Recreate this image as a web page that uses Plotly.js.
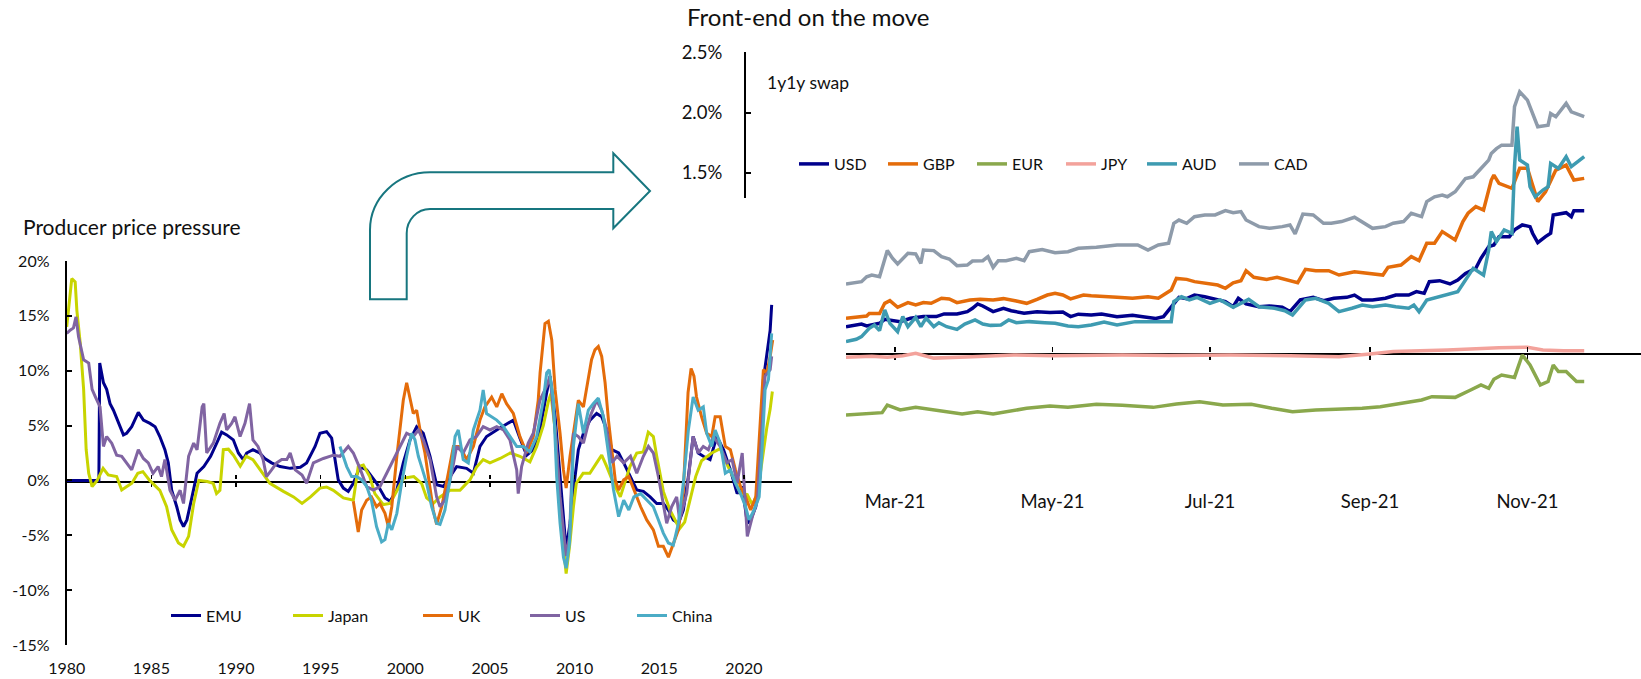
<!DOCTYPE html>
<html><head><meta charset="utf-8">
<script src="https://cdn.plot.ly/plotly-3.0.1.min.js"></script>
<style>html,body{margin:0;padding:0;background:#fff}#chart{width:1641px;height:679px}</style>
</head><body><div id="chart"></div>
<script>
// ---------------- DATA: Producer price pressure (% y/y) ----------------
const emu = [[1980.0,0],[1981.9,0],[1981.95,10.7],[1982.17,8.9],[1982.36,8.3],[1982.56,7.0],[1982.76,6.4],[1983.05,5.2],[1983.35,4.15],[1983.54,4.3],[1983.84,4.9],[1984.23,6.2],[1984.53,5.5],[1984.92,5.2],[1985.22,4.9],[1985.5,4.0],[1985.8,2.8],[1986.0,1.6],[1986.2,-0.9],[1986.5,-2.4],[1986.7,-3.6],[1986.9,-4.2],[1987.1,-3.6],[1987.4,-1.5],[1987.7,0.65],[1988.1,1.26],[1988.5,2.2],[1988.86,3.4],[1989.15,4.4],[1989.45,4.15],[1989.84,3.7],[1990.14,2.5],[1990.43,1.9],[1990.63,2.5],[1991.0,2.8],[1991.4,2.5],[1991.7,2.0],[1992.1,1.6],[1992.6,1.26],[1993.2,1.1],[1993.8,1.2],[1994.17,1.6],[1994.67,3.1],[1994.96,4.3],[1995.35,4.45],[1995.65,3.85],[1995.85,1.9],[1996.04,0.05],[1996.34,-0.7],[1996.63,-1.0],[1996.93,-0.26],[1997.32,1.26],[1997.72,0.96],[1998.31,-0.26],[1998.8,-1.6],[1999.1,-1.9],[1999.5,-0.87],[1999.88,1.6],[2000.28,3.7],[2000.67,4.9],[2001.06,4.3],[2001.46,2.2],[2001.85,-0.4],[2002.25,-0.56],[2002.64,0.35],[2003.03,1.26],[2003.62,1.1],[2004.02,0.65],[2004.41,3.1],[2004.8,4.0],[2005.4,4.6],[2005.98,5.1],[2006.38,5.5],[2006.77,3.85],[2007.17,2.3],[2007.56,2.8],[2007.95,4.6],[2008.35,8.0],[2008.55,9.5],[2008.85,5.8],[2009.14,0.35],[2009.34,-3.9],[2009.5,-6.3],[2009.73,-3.9],[2009.93,-0.87],[2010.22,2.8],[2010.52,4.3],[2010.91,5.5],[2011.3,6.1],[2011.6,5.8],[2011.9,4.6],[2012.2,2.8],[2012.6,2.5],[2012.9,1.6],[2013.3,0.35],[2013.67,-0.87],[2014.06,-1.0],[2014.46,-1.5],[2014.85,-2.1],[2015.24,-2.1],[2015.54,-2.7],[2015.83,-3.6],[2016.13,-3.9],[2016.42,-2.7],[2016.72,0.35],[2017.0,4.0],[2017.3,2.5],[2017.6,2.2],[2018.0,1.9],[2018.4,4.0],[2018.8,2.8],[2019.2,0.96],[2019.6,-1.2],[2019.9,-0.56],[2020.2,-3.9],[2020.4,-3.6],[2020.7,-2.4],[2020.95,0.35],[2021.15,9.2],[2021.35,11.3],[2021.55,13.7],[2021.64,16.0]];
const japan = [[1980.0,14.0],[1980.3,18.4],[1980.5,18.1],[1980.6,15.5],[1980.8,12.5],[1981.0,8.3],[1981.15,2.8],[1981.3,0.65],[1981.5,-0.56],[1981.8,0],[1982.15,1.1],[1982.45,0.5],[1982.95,0.35],[1983.25,-0.87],[1983.55,-0.56],[1983.85,-0.26],[1984.2,0.65],[1984.5,0.8],[1984.9,0],[1985.5,-0.9],[1985.9,-2.4],[1986.2,-4.5],[1986.6,-5.7],[1986.9,-6.0],[1987.2,-5.1],[1987.5,-2.1],[1987.8,0],[1988.3,-0.1],[1988.65,-0.26],[1988.85,-1.2],[1989.05,-0.9],[1989.25,2.8],[1989.55,2.85],[1989.85,2.3],[1990.25,1.3],[1990.6,2.2],[1991.0,1.9],[1991.6,0.65],[1992.0,-0.26],[1992.8,-1.0],[1993.4,-1.5],[1993.9,-2.1],[1994.4,-1.5],[1994.96,-0.7],[1995.35,-0.6],[1995.75,-0.9],[1996.34,-1.6],[1996.93,-1.8],[1997.22,1.26],[1997.52,1.4],[1997.9,0.35],[1998.2,-1.2],[1998.7,-2.2],[1999.1,-2.1],[1999.5,-0.9],[1999.9,0.2],[2000.5,0.35],[2000.96,-0.26],[2001.26,-1.6],[2001.65,-2.1],[2002.05,-1.5],[2002.64,-0.9],[2003.23,-0.9],[2003.82,0.05],[2004.2,1.2],[2004.6,1.9],[2005.0,1.6],[2005.6,2.0],[2006.2,2.5],[2006.77,2.2],[2007.36,1.7],[2007.76,3.1],[2008.15,5.0],[2008.45,7.2],[2008.6,7.9],[2008.85,4.6],[2009.04,0.05],[2009.24,-4.5],[2009.5,-8.5],[2009.7,-6.0],[2009.93,-2.4],[2010.1,-0.26],[2010.5,0.65],[2010.9,0.65],[2011.3,1.6],[2011.6,2.3],[2011.9,1.26],[2012.3,-0.26],[2012.7,-1.5],[2013.27,1.26],[2013.67,2.5],[2014.06,2.6],[2014.35,4.4],[2014.65,4.0],[2014.85,2.2],[2015.24,-1.0],[2015.63,-2.7],[2016.2,-4.4],[2016.5,-3.8],[2016.8,-1.8],[2017.15,0.35],[2017.5,1.8],[2018.1,2.5],[2018.6,2.9],[2019.05,1.3],[2019.5,-0.1],[2019.8,-1.2],[2020.2,-1.3],[2020.5,-2.2],[2020.8,-1.2],[2021.1,2.3],[2021.35,4.8],[2021.55,6.5],[2021.68,8.1]];
const uk = [[1996.93,-1.9],[1997.22,-4.7],[1997.42,-2.7],[1997.72,-1.8],[1998.0,-1.5],[1998.3,-2.4],[1998.5,-2.1],[1998.8,-3.0],[1999.0,-4.2],[1999.2,-2.4],[1999.5,2.2],[1999.7,4.9],[1999.88,7.3],[2000.08,8.9],[2000.28,7.3],[2000.47,6.1],[2000.67,6.4],[2000.87,4.6],[2001.16,2.5],[2001.46,-0.56],[2001.65,-2.7],[2001.85,-4.0],[2002.15,-2.4],[2002.54,0.65],[2002.84,3.1],[2003.23,3.1],[2003.62,1.9],[2004.02,3.1],[2004.41,5.5],[2004.7,6.7],[2005.1,7.6],[2005.4,6.7],[2005.7,7.9],[2005.98,7.0],[2006.38,6.1],[2006.77,4.0],[2007.17,2.5],[2007.56,4.0],[2007.85,7.3],[2007.96,9.8],[2008.25,14.3],[2008.45,14.5],[2008.65,12.8],[2008.85,8.25],[2009.14,4.3],[2009.34,0.96],[2009.5,-0.7],[2009.73,2.2],[2010.03,5.2],[2010.22,7.3],[2010.52,6.7],[2010.81,9.5],[2011.0,11.0],[2011.2,11.9],[2011.4,12.2],[2011.6,11.3],[2011.8,8.9],[2012.0,5.5],[2012.2,2.8],[2012.4,0.05],[2012.6,-0.87],[2012.9,0.05],[2013.2,0.35],[2013.5,-0.87],[2013.9,-2.4],[2014.26,-3.6],[2014.65,-4.5],[2014.95,-6.0],[2015.24,-6.0],[2015.54,-7.0],[2015.83,-5.7],[2016.13,-4.5],[2016.42,-1.0],[2016.55,3.0],[2016.7,8.0],[2016.88,10.2],[2017.05,9.5],[2017.2,7.6],[2017.5,5.8],[2017.8,4.3],[2018.1,4.0],[2018.3,5.8],[2018.6,5.8],[2018.9,3.1],[2019.2,2.8],[2019.5,0.96],[2019.8,-0.56],[2020.1,-1.5],[2020.4,-2.7],[2020.7,-1.5],[2020.95,4.6],[2021.15,10.1],[2021.35,9.8],[2021.55,11.3],[2021.7,12.8]];
const us = [[1980.0,13.4],[1980.2,13.7],[1980.4,13.9],[1980.55,14.9],[1980.7,13.1],[1981.0,11.0],[1981.3,10.7],[1981.5,8.3],[1981.7,7.6],[1981.97,6.7],[1982.17,3.1],[1982.36,4.0],[1982.66,3.4],[1982.95,2.3],[1983.25,2.2],[1983.54,1.6],[1983.84,0.96],[1984.23,2.8],[1984.53,2.0],[1984.82,1.6],[1985.1,0.65],[1985.4,1.26],[1985.6,0.35],[1985.8,1.9],[1986.1,-0.9],[1986.4,-1.8],[1986.7,-0.9],[1986.9,-2.1],[1987.2,2.2],[1987.5,3.4],[1987.7,2.8],[1988.0,6.7],[1988.1,7.0],[1988.27,2.5],[1988.66,3.4],[1989.05,5.2],[1989.3,6.1],[1989.45,4.6],[1989.74,5.2],[1989.94,5.8],[1990.24,4.0],[1990.53,5.2],[1990.8,7.0],[1991.0,3.7],[1991.3,3.1],[1991.6,1.9],[1991.8,0.35],[1992.1,0.96],[1992.4,1.6],[1992.7,1.9],[1993.0,1.9],[1993.2,2.5],[1993.5,0.96],[1993.9,0.5],[1994.17,-0.26],[1994.57,1.6],[1995.16,2.0],[1995.75,2.3],[1996.14,2.2],[1996.63,3.1],[1996.93,2.5],[1997.32,1.1],[1997.72,-0.56],[1998.11,-0.87],[1998.5,-0.56],[1998.9,0.65],[1999.3,1.9],[1999.7,3.1],[2000.08,4.3],[2000.47,4.0],[2000.77,4.6],[2001.06,3.7],[2001.46,1.9],[2001.85,-1.5],[2002.05,-2.4],[2002.34,-1.8],[2002.74,0.65],[2003.03,3.1],[2003.42,2.5],[2003.82,3.7],[2004.2,4.0],[2004.6,4.9],[2005.0,4.6],[2005.4,4.9],[2005.8,4.6],[2006.18,3.7],[2006.58,0.96],[2006.67,-1.2],[2006.87,1.26],[2007.26,3.4],[2007.56,4.3],[2007.95,7.3],[2008.35,8.6],[2008.55,9.5],[2008.85,4.6],[2009.14,-1.5],[2009.34,-4.5],[2009.5,-6.9],[2009.7,-5.1],[2009.93,4.3],[2010.22,4.0],[2010.52,3.4],[2010.91,5.8],[2011.3,7.3],[2011.6,6.4],[2011.9,4.6],[2012.2,1.6],[2012.5,2.2],[2012.9,1.6],[2013.3,2.2],[2013.67,0.65],[2014.06,2.2],[2014.36,3.1],[2014.65,2.5],[2014.95,0.35],[2015.24,-2.4],[2015.44,-3.9],[2015.73,-2.4],[2016.03,-1.5],[2016.2,-3.6],[2016.62,-1.2],[2017.0,4.0],[2017.3,2.5],[2017.6,3.1],[2017.9,2.8],[2018.2,4.0],[2018.6,3.1],[2019.0,1.6],[2019.3,1.9],[2019.6,-0.26],[2019.9,2.5],[2020.2,-5.1],[2020.5,-3.3],[2020.8,-1.8],[2021.05,4.6],[2021.25,9.5],[2021.55,10.1],[2021.64,11.3]];
const china = [[1996.14,3.1],[1996.54,1.26],[1996.83,0.35],[1997.13,0.35],[1997.42,0.05],[1997.72,-0.56],[1998.0,-1.8],[1998.3,-4.2],[1998.6,-5.6],[1998.8,-5.4],[1999.0,-3.9],[1999.2,-4.5],[1999.5,-3.0],[1999.78,-0.26],[2000.08,2.2],[2000.37,4.3],[2000.57,3.7],[2000.77,2.2],[2000.96,1.26],[2001.26,-0.26],[2001.56,-2.4],[2001.85,-3.9],[2002.05,-4.0],[2002.34,-2.7],[2002.64,0.05],[2002.94,4.0],[2003.13,4.6],[2003.42,1.9],[2003.72,1.6],[2004.02,4.6],[2004.41,6.4],[2004.6,8.25],[2004.8,6.1],[2005.1,5.8],[2005.4,5.5],[2005.8,4.9],[2006.18,4.0],[2006.58,3.1],[2006.97,3.1],[2007.36,2.6],[2007.76,4.0],[2008.15,7.3],[2008.35,9.8],[2008.5,10.1],[2008.75,7.3],[2008.94,0.35],[2009.14,-3.9],[2009.34,-7.0],[2009.5,-8.0],[2009.7,-5.7],[2009.93,3.1],[2010.22,7.0],[2010.52,4.3],[2010.81,6.4],[2011.1,7.0],[2011.4,7.5],[2011.7,5.8],[2012.0,2.2],[2012.3,-0.87],[2012.6,-3.3],[2012.9,-1.8],[2013.2,-2.7],[2013.5,-1.5],[2013.9,-1.2],[2014.26,-1.8],[2014.65,-2.4],[2014.95,-3.6],[2015.24,-4.8],[2015.54,-5.7],[2015.83,-5.9],[2016.13,-3.9],[2016.42,-0.26],[2016.72,4.6],[2017.0,7.6],[2017.3,6.4],[2017.6,6.7],[2017.8,4.3],[2018.1,3.1],[2018.3,4.6],[2018.6,3.4],[2018.9,0.65],[2019.2,0.96],[2019.5,-0.26],[2019.8,-1.2],[2020.1,-2.4],[2020.3,-3.6],[2020.6,-2.7],[2020.9,-1.5],[2021.05,2.2],[2021.25,8.25],[2021.45,9.2],[2021.64,13.4]];

const leftTickYears = [1980,1985,1990,1995,2000,2005,2010,2015,2020];
const leftTickText  = ['1980','1985','1990','1995','2000','2005','2010','2015','2020'];
const leftYTicks = [-15,-10,-5,0,5,10,15,20];
const leftYText  = ['-15%','-10%','-5%','0%','5%','10%','15%','20%'];

// ---------------- DATA: 1y1y swap (%) ----------------
const usd = [['2021-02-10',0.221],['2021-02-16',0.243],['2021-02-18',0.227],['2021-02-23',0.249],['2021-02-25',0.282],['2021-02-27',0.276],['2021-03-03',0.263],['2021-03-07',0.291],['2021-03-12',0.305],['2021-03-17',0.305],['2021-03-20',0.327],['2021-03-25',0.327],['2021-03-29',0.346],['2021-03-31',0.374],['2021-04-02',0.41],['2021-04-04',0.393],['2021-04-08',0.346],['2021-04-12',0.374],['2021-04-15',0.354],['2021-04-20',0.332],['2021-04-25',0.346],['2021-04-30',0.338],['2021-05-05',0.343],['2021-05-08',0.305],['2021-05-11',0.325],['2021-05-16',0.318],['2021-05-20',0.327],['2021-05-26',0.304],['2021-06-01',0.315],['2021-06-05',0.304],['2021-06-10',0.29],['2021-06-13',0.304],['2021-06-16',0.387],['2021-06-19',0.465],['2021-06-22',0.454],['2021-06-25',0.484],['2021-06-29',0.47],['2021-07-02',0.457],['2021-07-07',0.429],['2021-07-10',0.387],['2021-07-12',0.457],['2021-07-15',0.41],['2021-07-20',0.387],['2021-07-24',0.393],['2021-07-29',0.382],['2021-08-01',0.346],['2021-08-05',0.443],['2021-08-10',0.465],['2021-08-14',0.437],['2021-08-18',0.457],['2021-08-23',0.465],['2021-08-26',0.484],['2021-08-29',0.443],['2021-09-02',0.443],['2021-09-07',0.457],['2021-09-11',0.484],['2021-09-16',0.484],['2021-09-19',0.512],['2021-09-22',0.498],['2021-09-24',0.595],['2021-09-28',0.603],['2021-10-02',0.576],['2021-10-05',0.609],['2021-10-08',0.664],['2021-10-12',0.706],['2021-10-14',0.789],['2021-10-17',0.886],['2021-10-19',0.9],['2021-10-21',0.969],['2021-10-25',0.969],['2021-10-27',1.025],['2021-10-30',1.066],['2021-11-02',1.052],['2021-11-03',0.997],['2021-11-05',0.92],['2021-11-08',0.969],['2021-11-10',0.997],['2021-11-11',1.149],['2021-11-16',1.168],['2021-11-18',1.135],['2021-11-19',1.185],['2021-11-23',1.185]];
const gbp = [['2021-02-10',0.291],['2021-02-16',0.305],['2021-02-18',0.31],['2021-02-19',0.33],['2021-02-23',0.33],['2021-02-25',0.415],['2021-02-27',0.437],['2021-03-02',0.382],['2021-03-06',0.421],['2021-03-09',0.401],['2021-03-12',0.421],['2021-03-15',0.415],['2021-03-19',0.457],['2021-03-22',0.451],['2021-03-25',0.421],['2021-03-30',0.443],['2021-04-03',0.448],['2021-04-08',0.443],['2021-04-12',0.454],['2021-04-17',0.434],['2021-04-21',0.415],['2021-04-25',0.448],['2021-04-29',0.484],['2021-05-02',0.498],['2021-05-05',0.484],['2021-05-08',0.452],['2021-05-13',0.484],['2021-05-16',0.478],['2021-05-20',0.47],['2021-05-26',0.465],['2021-06-01',0.457],['2021-06-07',0.47],['2021-06-11',0.457],['2021-06-16',0.526],['2021-06-18',0.622],['2021-06-22',0.614],['2021-06-25',0.595],['2021-06-29',0.581],['2021-07-04',0.567],['2021-07-07',0.54],['2021-07-10',0.586],['2021-07-13',0.603],['2021-07-15',0.686],['2021-07-18',0.631],['2021-07-23',0.614],['2021-07-27',0.631],['2021-08-01',0.603],['2021-08-04',0.586],['2021-08-07',0.697],['2021-08-11',0.686],['2021-08-16',0.686],['2021-08-20',0.65],['2021-08-26',0.678],['2021-09-01',0.664],['2021-09-06',0.65],['2021-09-08',0.714],['2021-09-13',0.733],['2021-09-17',0.803],['2021-09-20',0.77],['2021-09-23',0.914],['2021-09-26',0.914],['2021-09-29',1.011],['2021-10-02',0.969],['2021-10-04',0.941],['2021-10-07',1.094],['2021-10-09',1.163],['2021-10-12',1.218],['2021-10-15',1.19],['2021-10-18',1.439],['2021-10-19',1.48],['2021-10-21',1.411],['2021-10-26',1.37],['2021-10-29',1.536],['2021-11-01',1.536],['2021-11-03',1.397],['2021-11-05',1.26],['2021-11-08',1.342],['2021-11-12',1.522],['2021-11-16',1.563],['2021-11-19',1.439],['2021-11-23',1.453]];
const eur = [['2021-02-10',-0.512],['2021-02-24',-0.493],['2021-02-26',-0.43],['2021-03-03',-0.47],['2021-03-09',-0.449],['2021-03-18',-0.476],['2021-03-27',-0.504],['2021-04-02',-0.485],['2021-04-08',-0.504],['2021-04-21',-0.457],['2021-04-30',-0.437],['2021-05-07',-0.449],['2021-05-18',-0.424],['2021-05-28',-0.432],['2021-06-09',-0.449],['2021-06-18',-0.421],['2021-06-27',-0.402],['2021-07-06',-0.43],['2021-07-17',-0.424],['2021-07-25',-0.457],['2021-08-02',-0.485],['2021-08-11',-0.471],['2021-08-19',-0.466],['2021-08-29',-0.457],['2021-09-05',-0.443],['2021-09-13',-0.415],['2021-09-21',-0.388],['2021-09-25',-0.36],['2021-10-04',-0.366],['2021-10-10',-0.305],['2021-10-14',-0.263],['2021-10-17',-0.291],['2021-10-19',-0.216],['2021-10-22',-0.18],['2021-10-27',-0.2],['2021-10-30',-0.014],['2021-11-02',-0.097],['2021-11-06',-0.263],['2021-11-09',-0.235],['2021-11-11',-0.097],['2021-11-13',-0.152],['2021-11-16',-0.152],['2021-11-20',-0.235],['2021-11-23',-0.235]];
const jpy = [['2021-02-10',-0.033],['2021-02-20',-0.025],['2021-02-26',-0.033],['2021-03-04',-0.02],['2021-03-09',0.0],['2021-03-16',-0.04],['2021-03-31',-0.028],['2021-04-16',-0.014],['2021-05-01',-0.02],['2021-05-28',-0.014],['2021-06-15',-0.018],['2021-07-09',-0.014],['2021-08-01',-0.02],['2021-08-20',-0.028],['2021-09-01',-0.006],['2021-09-10',0.014],['2021-10-01',0.028],['2021-10-21',0.047],['2021-11-01',0.05],['2021-11-07',0.028],['2021-11-15',0.022],['2021-11-23',0.022]];
const aud = [['2021-02-10',0.097],['2021-02-14',0.116],['2021-02-16',0.138],['2021-02-19',0.207],['2021-02-21',0.235],['2021-02-23',0.188],['2021-02-25',0.36],['2021-02-27',0.249],['2021-03-02',0.18],['2021-03-04',0.305],['2021-03-06',0.221],['2021-03-09',0.299],['2021-03-11',0.221],['2021-03-13',0.293],['2021-03-16',0.221],['2021-03-18',0.254],['2021-03-21',0.221],['2021-03-25',0.199],['2021-03-28',0.243],['2021-04-01',0.277],['2021-04-04',0.243],['2021-04-07',0.232],['2021-04-11',0.235],['2021-04-14',0.277],['2021-04-17',0.254],['2021-04-22',0.263],['2021-04-28',0.254],['2021-05-02',0.249],['2021-05-07',0.227],['2021-05-11',0.221],['2021-05-16',0.235],['2021-05-21',0.26],['2021-05-26',0.235],['2021-06-02',0.263],['2021-06-10',0.263],['2021-06-16',0.263],['2021-06-17',0.429],['2021-06-20',0.47],['2021-06-23',0.443],['2021-06-26',0.465],['2021-07-01',0.415],['2021-07-05',0.443],['2021-07-10',0.382],['2021-07-13',0.415],['2021-07-16',0.448],['2021-07-20',0.387],['2021-07-26',0.374],['2021-07-30',0.354],['2021-08-02',0.318],['2021-08-07',0.443],['2021-08-11',0.457],['2021-08-16',0.415],['2021-08-20',0.346],['2021-08-25',0.374],['2021-08-29',0.401],['2021-09-02',0.387],['2021-09-07',0.401],['2021-09-11',0.387],['2021-09-16',0.374],['2021-09-18',0.401],['2021-09-20',0.346],['2021-09-23',0.443],['2021-09-28',0.47],['2021-10-02',0.498],['2021-10-05',0.512],['2021-10-08',0.609],['2021-10-11',0.706],['2021-10-15',0.65],['2021-10-17',0.858],['2021-10-18',1.011],['2021-10-20',0.928],['2021-10-23',1.025],['2021-10-26',0.997],['2021-10-27',1.55],['2021-10-28',1.882],['2021-10-29',1.605],['2021-11-01',1.563],['2021-11-02',1.383],['2021-11-04',1.30],['2021-11-07',1.356],['2021-11-09',1.383],['2021-11-10',1.577],['2021-11-13',1.536],['2021-11-16',1.633],['2021-11-18',1.55],['2021-11-23',1.633]];
const cad = [['2021-02-10',0.576],['2021-02-16',0.595],['2021-02-18',0.636],['2021-02-20',0.65],['2021-02-23',0.636],['2021-02-26',0.853],['2021-02-28',0.79],['2021-03-02',0.742],['2021-03-06',0.83],['2021-03-09',0.825],['2021-03-11',0.747],['2021-03-12',0.858],['2021-03-16',0.853],['2021-03-19',0.803],['2021-03-22',0.783],['2021-03-25',0.728],['2021-03-29',0.733],['2021-03-31',0.766],['2021-04-04',0.769],['2021-04-06',0.803],['2021-04-08',0.714],['2021-04-10',0.769],['2021-04-13',0.769],['2021-04-17',0.789],['2021-04-20',0.769],['2021-04-22',0.844],['2021-04-27',0.862],['2021-05-02',0.836],['2021-05-07',0.844],['2021-05-11',0.872],['2021-05-18',0.88],['2021-05-26',0.9],['2021-06-03',0.9],['2021-06-07',0.858],['2021-06-11',0.9],['2021-06-15',0.914],['2021-06-17',1.08],['2021-06-19',1.107],['2021-06-22',1.08],['2021-06-25',1.135],['2021-06-29',1.149],['2021-07-03',1.149],['2021-07-07',1.185],['2021-07-10',1.168],['2021-07-13',1.177],['2021-07-15',1.107],['2021-07-20',1.052],['2021-07-24',1.038],['2021-07-29',1.052],['2021-08-01',1.066],['2021-08-03',0.991],['2021-08-06',1.157],['2021-08-10',1.149],['2021-08-14',1.08],['2021-08-17',1.08],['2021-08-21',1.094],['2021-08-26',1.13],['2021-08-30',1.08],['2021-09-02',1.038],['2021-09-07',1.052],['2021-09-10',1.08],['2021-09-14',1.094],['2021-09-17',1.163],['2021-09-21',1.135],['2021-09-23',1.26],['2021-09-26',1.30],['2021-09-29',1.314],['2021-10-01',1.30],['2021-10-04',1.342],['2021-10-08',1.452],['2021-10-11',1.466],['2021-10-14',1.535],['2021-10-17',1.605],['2021-10-18',1.66],['2021-10-20',1.70],['2021-10-22',1.729],['2021-10-26',1.729],['2021-10-27',2.048],['2021-10-29',2.172],['2021-11-01',2.103],['2021-11-03',1.992],['2021-11-05',1.882],['2021-11-09',1.895],['2021-11-10',1.992],['2021-11-12',1.965],['2021-11-16',2.076],['2021-11-18',2.006],['2021-11-20',1.992],['2021-11-23',1.965]];

const rightTickDates = ['2021-03-01','2021-05-01','2021-07-01','2021-09-01','2021-11-01'];
const rightTickText  = ['Mar-21','May-21','Jul-21','Sep-21','Nov-21'];
const rightYTicks = [1.5, 2.0, 2.5];
const rightYText  = ['1.5%','2.0%','2.5%'];

// ---------------- STYLE / LAYOUT ----------------
const W = 1641, H = 679;
const FONT = 'Lato, "Open Sans", sans-serif';
const fx = p => p / W;          // pixel -> paper x
const fy = p => 1 - p / H;      // pixel -> paper y

const leftRange = [1980, 2022.84];
const rightRange = ['2021-02-10', '2021-12-15'];
const leftXDomain = [fx(66.7), fx(792)];
const rightXDomain = [fx(846), 1];

const leftDefs = [
  {name:'EMU',   data:emu,   color:'#00008C', leg:171},
  {name:'Japan', data:japan, color:'#C8D400', leg:293},
  {name:'UK',    data:uk,    color:'#E46C0A', leg:423},
  {name:'US',    data:us,    color:'#8064A2', leg:530},
  {name:'China', data:china, color:'#4BACC6', leg:637}
];
const rightDefs = [
  {name:'USD', data:usd, color:'#00008C', leg:799},
  {name:'GBP', data:gbp, color:'#E46C0A', leg:888},
  {name:'EUR', data:eur, color:'#8AA84C', leg:977},
  {name:'JPY', data:jpy, color:'#F3A29B', leg:1066},
  {name:'AUD', data:aud, color:'#3E9BB1', leg:1147},
  {name:'CAD', data:cad, color:'#8E9BAA', leg:1239}
];

const traces = [];
// empty helper traces so the axis-only subplots (zero lines, tick crossings, right y-axis) get drawn
[['x','y'],['x5','y'],['x2','y2'],['x6','y2'],['x4','y5']].forEach(([xa, ya]) => {
  traces.push({type:'scatter', mode:'lines', x:[], y:[], xaxis:xa, yaxis:ya, showlegend:false, hoverinfo:'skip'});
});

const hidden = {showline:false, showticklabels:false, ticks:'', showgrid:false, zeroline:false, fixedrange:true};
const zeroLine = (domain, range, anchor, vals, extra) => Object.assign({domain, range, anchor, showline:true,
  linecolor:'#000', linewidth:2, ticks:'outside', ticklen:4, tickwidth:1.5, tickcolor:'#000', tickvals:vals,
  showticklabels:false, showgrid:false, zeroline:false, fixedrange:true}, extra || {});
const tickUp = (domain, range, anchor, vals, extra) => Object.assign({domain, range, anchor, side:'top', showline:false,
  ticks:'outside', ticklen:4, tickwidth:1.5, tickcolor:'#000', tickvals:vals,
  showticklabels:false, showgrid:false, zeroline:false, fixedrange:true}, extra || {});

const layout = {
  width: W, height: H,
  margin: {l:0, r:0, t:0, b:0},
  paper_bgcolor: '#ffffff', plot_bgcolor: 'rgba(0,0,0,0)',
  font: {family: FONT, color: '#111', size: 16},
  showlegend: true,
  // left zero line: line + downward ticks (x) and upward ticks (x5)
  xaxis:  zeroLine(leftXDomain, leftRange, 'y', leftTickYears),
  xaxis5: tickUp(leftXDomain, leftRange, 'y', leftTickYears),
  yaxis:  Object.assign({domain:[fy(480.5), fy(480.5)+0.0008], range:[0,1], anchor:'x'}, hidden),
  // right zero line
  xaxis2: zeroLine(rightXDomain, rightRange, 'y2', rightTickDates, {type:'date', ticklen:5}),
  xaxis6: tickUp(rightXDomain, rightRange, 'y2', rightTickDates, {type:'date', ticklen:5}),
  yaxis2: Object.assign({domain:[fy(353.3), fy(353.3)+0.0008], range:[0,1], anchor:'x2'}, hidden),
  // left data axes
  xaxis3: {domain:leftXDomain, range:leftRange, anchor:'y3', showline:false, ticks:'',
          tickvals:leftTickYears, ticktext:leftTickText, tickfont:{size:16, family:FONT, color:'#111'},
          ticklabelstandoff:12, showgrid:false, zeroline:false, fixedrange:true},
  yaxis3: {domain:[fy(645), fy(261)], range:[-15,20], anchor:'x3', showline:true, linecolor:'#000', linewidth:2,
          ticks:'inside', ticklen:5, tickwidth:2, tickcolor:'#000', tickvals:leftYTicks, ticktext:leftYText,
          tickfont:{size:16, family:FONT, color:'#111'}, ticklabelstandoff:12, showgrid:false, zeroline:false, fixedrange:true},
  // right data axes
  xaxis4: {domain:rightXDomain, type:'date', range:rightRange, anchor:'y4', showline:false, ticks:'',
          tickvals:rightTickDates, ticktext:rightTickText, tickfont:{size:18.5, family:FONT, color:'#111'},
          ticklabelstandoff:15, showgrid:false, zeroline:false, fixedrange:true},
  yaxis4: Object.assign({domain:[fy(473.7), fy(52.3)], range:[-1,2.5], anchor:'x4'}, hidden),
  // visible right y-axis (upper part only)
  yaxis5: {domain:[fy(198.3), fy(52.3)], range:[1.2874,2.5], anchor:'free', position:fx(745), showline:true,
          linecolor:'#000', linewidth:2, ticks:'inside', ticklen:5, tickwidth:2, tickcolor:'#000',
          tickvals:rightYTicks, ticktext:rightYText, tickfont:{size:18.5, family:FONT, color:'#111'},
          ticklabelstandoff:18, showgrid:false, zeroline:false, fixedrange:true},
  annotations: [
    {text:'Producer price pressure', xref:'paper', yref:'paper', x:fx(21), y:fy(227), xanchor:'left', yanchor:'middle',
     showarrow:false, font:{size:21, family:FONT, color:'#111'}},
    {text:'Front-end on the move', xref:'paper', yref:'paper', x:fx(685), y:fy(16.5), xanchor:'left', yanchor:'middle',
     showarrow:false, font:{size:24, family:FONT, color:'#111'}},
    {text:'1y1y swap', xref:'paper', yref:'paper', x:fx(765), y:fy(82), xanchor:'left', yanchor:'middle',
     showarrow:false, font:{size:17.5, family:FONT, color:'#111'}}
  ],
  shapes: []
};

// legends: one per entry so each sits where the reference puts it
let legN = 0;
function legendId() { legN += 1; return legN === 1 ? 'legend' : 'legend' + legN; }

leftDefs.forEach(d => {
  const id = legendId();
  layout[id] = {x: fx(d.leg - 5), y: fy(615.7), xanchor:'left', yanchor:'middle', orientation:'h',
                bgcolor:'rgba(0,0,0,0)', borderwidth:0, font:{size:16, family:FONT, color:'#111'}};
  traces.push({type:'scatter', mode:'lines', name:d.name, legend:id,
               x:d.data.map(p => p[0]), y:d.data.map(p => p[1]),
               xaxis:'x3', yaxis:'y3', line:{color:d.color, width:3}, hoverinfo:'skip'});
});
rightDefs.forEach(d => {
  const id = legendId();
  layout[id] = {x: fx(d.leg - 5), y: fy(164), xanchor:'left', yanchor:'middle', orientation:'h',
                bgcolor:'rgba(0,0,0,0)', borderwidth:0, font:{size:16, family:FONT, color:'#111'}};
  traces.push({type:'scatter', mode:'lines', name:d.name, legend:id,
               x:d.data.map(p => p[0]), y:d.data.map(p => p[1]),
               xaxis:'x4', yaxis:'y4', line:{color:d.color, width:3.5}, hoverinfo:'skip'});
});

// decorative bent arrow (outline)
function P(x, y) { return fx(x).toFixed(5) + ',' + fy(y).toFixed(5); }
const arrowPath = 'M' + P(370,299.3) + ' L' + P(406.7,299.3) + ' L' + P(406.7,233.3) +
  ' C' + P(406.7,219.9) + ' ' + P(417.1,209) + ' ' + P(430,209) +
  ' L' + P(613.3,209) + ' L' + P(613.3,228.3) + ' L' + P(650,191) + ' L' + P(613.3,153.3) +
  ' L' + P(613.3,172.3) + ' L' + P(430,172.3) +
  ' C' + P(396.9,172.3) + ' ' + P(370,198.1) + ' ' + P(370,230) + ' Z';
layout.shapes.push({type:'path', xref:'paper', yref:'paper', path:arrowPath,
                    line:{color:'#17767F', width:2}, fillcolor:'rgba(255,255,255,0)'});

Plotly.newPlot('chart', traces, layout, {displayModeBar:false, staticPlot:true});
</script>
</body></html>
